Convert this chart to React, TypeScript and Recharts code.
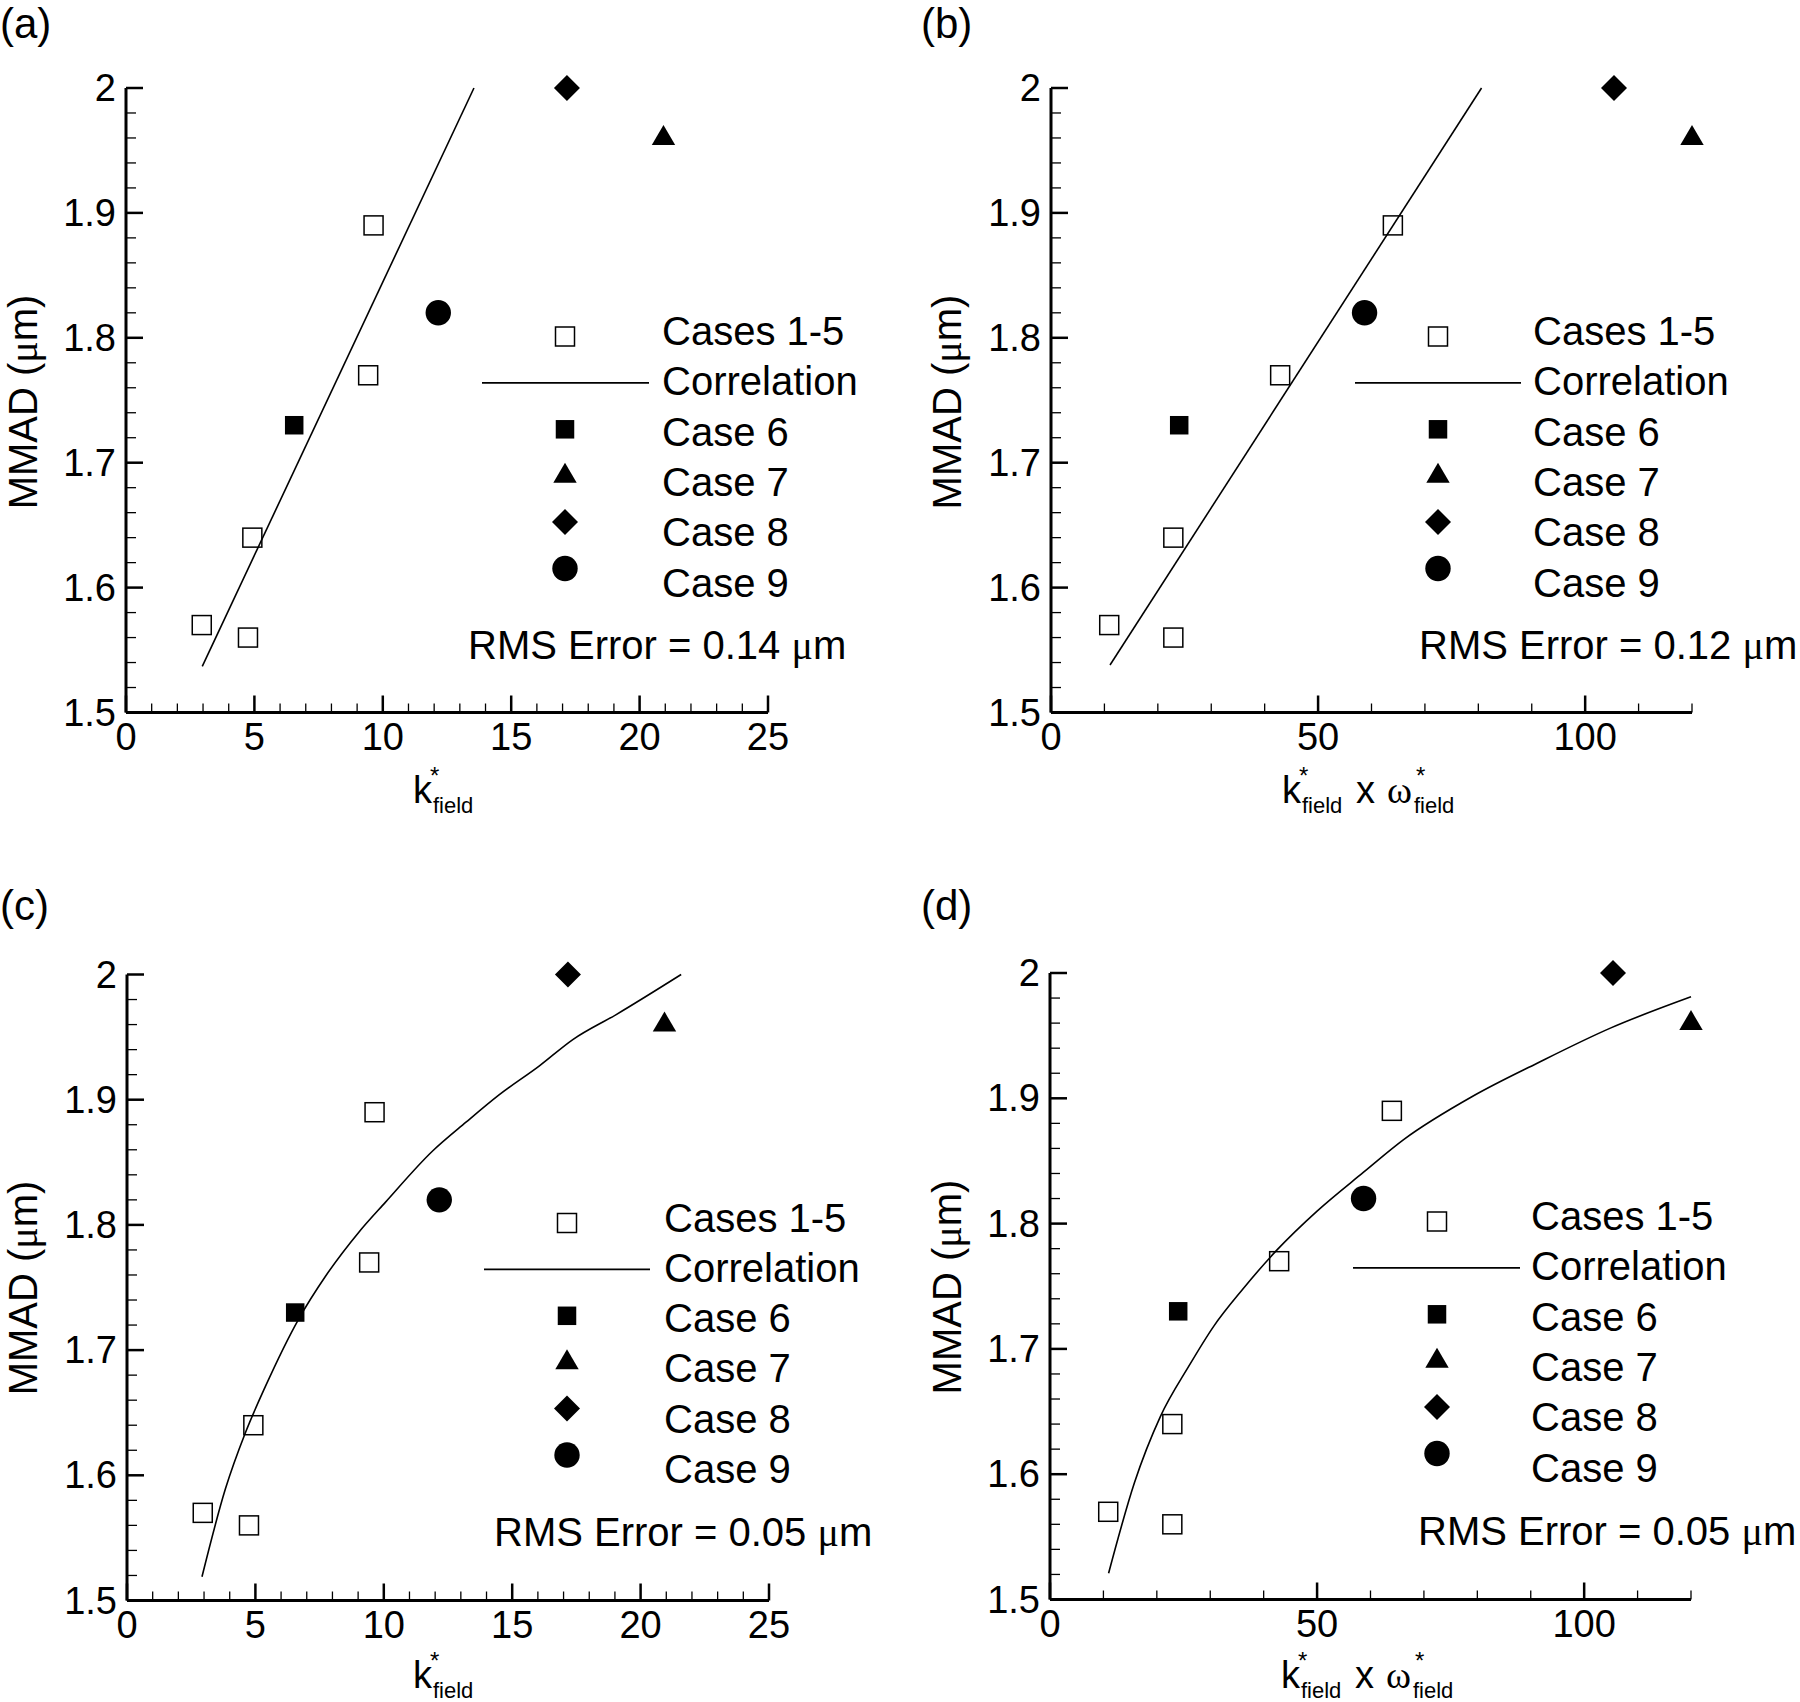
import React from "react";
import { ScatterChart, Scatter, XAxis, YAxis } from "recharts";

const FONT = "'Liberation Sans', Arial, Helvetica, sans-serif";
const SERIF = "'Liberation Serif', 'Times New Roman', serif";

// Cases 1-5 (open squares)
const CASES_1_5_K = [2.95, 4.75, 4.92, 9.43, 9.64];
const CASES_1_5_KW = [10.9, 22.9, 22.9, 42.9, 64.0];
const CASES_1_5_MMAD = [1.57, 1.56, 1.64, 1.77, 1.89];

// Cases 6, 7, 8, 9
const CASE_K = [6.55, 20.93, 17.17, 12.16];
const CASE_KW = [24.0, 120.0, 105.4, 58.7];
const CASE_MMAD = [1.73, 1.96, 2.0, 1.82];

// correlation curves
const CORR_A_X = [2.97, 13.55];
const CORR_A_Y = [1.537, 2.0];
const CORR_B_X = [11.05, 80.6];
const CORR_B_Y = [1.538, 2.0];
const CORR_C_X = [2.92, 3.83, 4.61, 5.39, 6.69, 7.73, 9.02, 10.06, 11.9, 13.2, 14.5, 16.06, 17.36, 19.05, 21.58];
const CORR_C_Y = [1.519, 1.589, 1.634, 1.671, 1.725, 1.759, 1.794, 1.818, 1.859, 1.882, 1.904, 1.927, 1.948, 1.968, 2.0];
const CORR_D_X = [10.97, 15.79, 20.66, 25.96, 30.64, 35.96, 42.5, 50, 58.7, 66.2, 79.3, 91.2, 104.9, 120.0];
const CORR_D_Y = [1.521, 1.593, 1.646, 1.686, 1.718, 1.747, 1.779, 1.81, 1.841, 1.867, 1.902, 1.928, 1.956, 1.981];

const RMS = ["0.14", "0.12", "0.05", "0.05"];
const LEGEND_LABELS = ["Cases 1-5", "Correlation", "Case 6", "Case 7", "Case 8", "Case 9"];

// ticks
const Y_TICKS = [1.5, 1.52, 1.54, 1.56, 1.58, 1.6, 1.62, 1.64, 1.66, 1.68, 1.7, 1.72, 1.74, 1.76, 1.78, 1.8, 1.82, 1.84, 1.86, 1.88, 1.9, 1.92, 1.94, 1.96, 1.98, 2.0];
const Y_MAJOR = [1.5, 1.6, 1.7, 1.8, 1.9, 2.0];
const Y_LABELS = ["1.5", "1.6", "1.7", "1.8", "1.9", "2"];
const X_TICKS_K = [0, 1, 2, 3, 4, 5, 6, 7, 8, 9, 10, 11, 12, 13, 14, 15, 16, 17, 18, 19, 20, 21, 22, 23, 24, 25];
const X_MAJOR_K = [0, 5, 10, 15, 20, 25];
const X_LABELS_K = ["0", "5", "10", "15", "20", "25"];
const X_TICKS_KW = [0, 10, 20, 30, 40, 50, 60, 70, 80, 90, 100, 110, 120];
const X_MAJOR_KW = [0, 50, 100];
const X_LABELS_KW = ["0", "50", "100"];

const AXIS_W = 60;
const AXIS_H = 60;

const pts = (xs: number[], ys: number[]) => xs.map((x, i) => ({ x, y: ys[i] }));

// marker shapes
const OpenSquare = ({ cx, cy }: any) => (
  <rect x={cx - 9.5} y={cy - 9.5} width={19} height={19} fill="none" stroke="#000" strokeWidth={1.5} />
);
const FilledSquare = ({ cx, cy }: any) => (
  <rect x={cx - 9.25} y={cy - 9.25} width={18.5} height={18.5} fill="#000" />
);
const Triangle = ({ cx, cy }: any) => (
  <polygon points={`${cx},${cy - 13} ${cx + 11.7},${cy + 7} ${cx - 11.7},${cy + 7}`} fill="#000" />
);
const Diamond = ({ cx, cy }: any) => (
  <polygon points={`${cx},${cy - 13} ${cx + 13},${cy} ${cx},${cy + 13} ${cx - 13},${cy}`} fill="#000" />
);
const Circle = ({ cx, cy }: any) => <circle cx={cx} cy={cy} r={12.7} fill="#000" />;
const NoDot = () => <g />;
const CASE_SHAPES = [FilledSquare, Triangle, Diamond, Circle];

function xTick(majors: number[], labels: string[]) {
  return (p: any) => {
    const v = p.payload.value;
    const i = majors.findIndex((m) => Math.abs(m - v) < 1e-6);
    const major = i >= 0;
    return (
      <g>
        <line x1={p.x} x2={p.x} y1={p.y} y2={p.y - (major ? 17 : 9)} stroke="#000" strokeWidth={major ? 2.5 : 1.3} />
        {major && (
          <text x={p.x} y={p.y + 37} textAnchor="middle" fontSize={38} fontFamily={FONT} fill="#000">
            {labels[i]}
          </text>
        )}
      </g>
    );
  };
}

function yTick(p: any) {
  const v = p.payload.value;
  const i = Y_MAJOR.findIndex((m) => Math.abs(m - v) < 1e-6);
  const major = i >= 0;
  return (
    <g>
      <line x1={p.x} x2={p.x + (major ? 17 : 10)} y1={p.y} y2={p.y} stroke="#000" strokeWidth={major ? 2.5 : 1.3} />
      {major && (
        <text x={p.x - 10} y={p.y + 13} textAnchor="end" fontSize={38} fontFamily={FONT} fill="#000">
          {Y_LABELS[i]}
        </text>
      )}
    </g>
  );
}

interface PanelProps {
  left: number;
  top: number;
  width: number;
  height: number;
  plotLeft: number;
  plotTop: number;
  plotRight: number;
  plotBottom: number;
  xMax: number;
  xTicks: number[];
  xMajor: number[];
  xLabels: string[];
  casesX: number[];
  caseX: number[];
  corrX: number[];
  corrY: number[];
  smooth?: boolean;
}

function Panel(p: PanelProps) {
  const cases = pts(p.casesX, CASES_1_5_MMAD);
  const corr = pts(p.corrX, p.corrY);
  const margin = {
    top: p.plotTop,
    left: p.plotLeft - AXIS_W,
    right: p.width - p.plotRight,
    bottom: p.height - p.plotBottom - AXIS_H,
  };
  return (
    <div style={{ position: "absolute", left: p.left, top: p.top }}>
      <ScatterChart width={p.width} height={p.height} margin={margin} style={{ overflow: "visible" }}>
        <XAxis
          type="number"
          dataKey="x"
          domain={[0, p.xMax]}
          ticks={p.xTicks}
          interval={0}
          height={AXIS_H}
          tickLine={false}
          tickSize={0}
          tickMargin={0}
          axisLine={{ stroke: "#000", strokeWidth: 3 }}
          tick={xTick(p.xMajor, p.xLabels)}
        />
        <YAxis
          type="number"
          dataKey="y"
          domain={[1.5, 2.0]}
          ticks={Y_TICKS}
          interval={0}
          width={AXIS_W}
          tickLine={false}
          tickSize={0}
          tickMargin={0}
          axisLine={{ stroke: "#000", strokeWidth: 3 }}
          tick={yTick}
        />
        <Scatter
          data={corr}
          line={{ stroke: "#000", strokeWidth: 1.6 }}
          lineJointType={p.smooth ? "monotoneX" : "linear"}
          shape={NoDot}
          isAnimationActive={false}
        />
        <Scatter data={cases} shape={OpenSquare} isAnimationActive={false} />
        {CASE_SHAPES.map((S, i) => (
          <Scatter key={i} data={[{ x: p.caseX[i], y: CASE_MMAD[i] }]} shape={S} isAnimationActive={false} />
        ))}
      </ScatterChart>
    </div>
  );
}

function KStar({ x, y }: { x: number; y: number }) {
  return (
    <g>
      <text x={x} y={y} fontSize={38}>k</text>
      <text x={x + 17} y={y - 19} fontSize={24}>*</text>
      <text x={x + 20} y={y + 10} fontSize={22}>field</text>
    </g>
  );
}

function XLabelK({ x, y }: { x: number; y: number }) {
  return <KStar x={x} y={y} />;
}

function XLabelKW({ x, y }: { x: number; y: number }) {
  return (
    <g>
      <KStar x={x} y={y} />
      <text x={x + 74} y={y} fontSize={38}>x</text>
      <text x={x + 105} y={y} fontSize={38} fontFamily={SERIF}>ω</text>
      <text x={x + 134} y={y - 19} fontSize={24}>*</text>
      <text x={x + 132} y={y + 10} fontSize={22}>field</text>
    </g>
  );
}

function Legend({ mx, tx, lx0, lx1, top }: { mx: number; tx: number; lx0: number; lx1: number; top: number }) {
  const my = (i: number) => top + 248.5 + i * 46.4;
  const ty = (i: number) => top + 257 + i * 50.3;
  return (
    <g>
      <OpenSquare cx={mx} cy={my(0)} />
      <line x1={lx0} x2={lx1} y1={my(1)} y2={my(1)} stroke="#000" strokeWidth={1.6} />
      {CASE_SHAPES.map((S, i) => (
        <S key={i} cx={mx} cy={my(i + 2)} />
      ))}
      {LEGEND_LABELS.map((t, i) => (
        <text key={t} x={tx} y={ty(i)} fontSize={40}>
          {t}
        </text>
      ))}
    </g>
  );
}

function RmsText({ x, y, v }: { x: number; y: number; v: string }) {
  return (
    <text x={x} y={y} fontSize={40}>
      {`RMS Error = ${v} `}
      <tspan fontFamily={SERIF}>μ</tspan>m
    </text>
  );
}

function YLabel({ x, y }: { x: number; y: number }) {
  return (
    <text x={x} y={y} fontSize={40} textAnchor="middle" transform={`rotate(-90 ${x} ${y})`}>
      MMAD (<tspan fontFamily={SERIF}>μ</tspan>m)
    </text>
  );
}

function Overlay() {
  return (
    <svg
      width={1800}
      height={1702}
      style={{ position: "absolute", left: 0, top: 0, pointerEvents: "none" }}
      fontFamily={FONT}
      fill="#000"
    >
      <text x={0} y={38} fontSize={42}>(a)</text>
      <text x={921} y={38} fontSize={42}>(b)</text>
      <text x={0} y={920} fontSize={42}>(c)</text>
      <text x={921} y={920} fontSize={42}>(d)</text>

      <YLabel x={37} y={402} />
      <YLabel x={961} y={402} />
      <YLabel x={37} y={1288} />
      <YLabel x={961} y={1287} />

      <XLabelK x={413} y={803} />
      <XLabelKW x={1282} y={803} />
      <XLabelK x={413} y={1688} />
      <XLabelKW x={1281} y={1688} />

      <Legend mx={565} tx={662} lx0={482} lx1={649} top={88} />
      <Legend mx={1438} tx={1533} lx0={1355} lx1={1521} top={88} />
      <Legend mx={567} tx={664} lx0={484} lx1={650} top={974.5} />
      <Legend mx={1437} tx={1531} lx0={1353} lx1={1520} top={973} />

      <RmsText x={468} y={659} v={RMS[0]} />
      <RmsText x={1419} y={659} v={RMS[1]} />
      <RmsText x={494} y={1546} v={RMS[2]} />
      <RmsText x={1418} y={1545} v={RMS[3]} />
    </svg>
  );
}

export default function App() {
  return (
    <div
      style={{
        position: "absolute",
        left: 0,
        top: 0,
        width: 1800,
        height: 1702,
        background: "#fff",
        overflow: "hidden",
        fontFamily: FONT,
      }}
    >
      <Panel
        left={0}
        top={0}
        width={900}
        height={860}
        plotLeft={126}
        plotTop={88}
        plotRight={768}
        plotBottom={712.5}
        xMax={25}
        xTicks={X_TICKS_K}
        xMajor={X_MAJOR_K}
        xLabels={X_LABELS_K}
        casesX={CASES_1_5_K}
        caseX={CASE_K}
        corrX={CORR_A_X}
        corrY={CORR_A_Y}
      />
      <Panel
        left={900}
        top={0}
        width={900}
        height={860}
        plotLeft={151}
        plotTop={88}
        plotRight={792}
        plotBottom={712.5}
        xMax={120}
        xTicks={X_TICKS_KW}
        xMajor={X_MAJOR_KW}
        xLabels={X_LABELS_KW}
        casesX={CASES_1_5_KW}
        caseX={CASE_KW}
        corrX={CORR_B_X}
        corrY={CORR_B_Y}
      />
      <Panel
        left={0}
        top={860}
        width={900}
        height={842}
        plotLeft={127}
        plotTop={114.5}
        plotRight={769}
        plotBottom={740.5}
        xMax={25}
        xTicks={X_TICKS_K}
        xMajor={X_MAJOR_K}
        xLabels={X_LABELS_K}
        casesX={CASES_1_5_K}
        caseX={CASE_K}
        corrX={CORR_C_X}
        corrY={CORR_C_Y}
        smooth
      />
      <Panel
        left={900}
        top={860}
        width={900}
        height={842}
        plotLeft={150}
        plotTop={113}
        plotRight={791}
        plotBottom={739.5}
        xMax={120}
        xTicks={X_TICKS_KW}
        xMajor={X_MAJOR_KW}
        xLabels={X_LABELS_KW}
        casesX={CASES_1_5_KW}
        caseX={CASE_KW}
        corrX={CORR_D_X}
        corrY={CORR_D_Y}
        smooth
      />
      <Overlay />
    </div>
  );
}
